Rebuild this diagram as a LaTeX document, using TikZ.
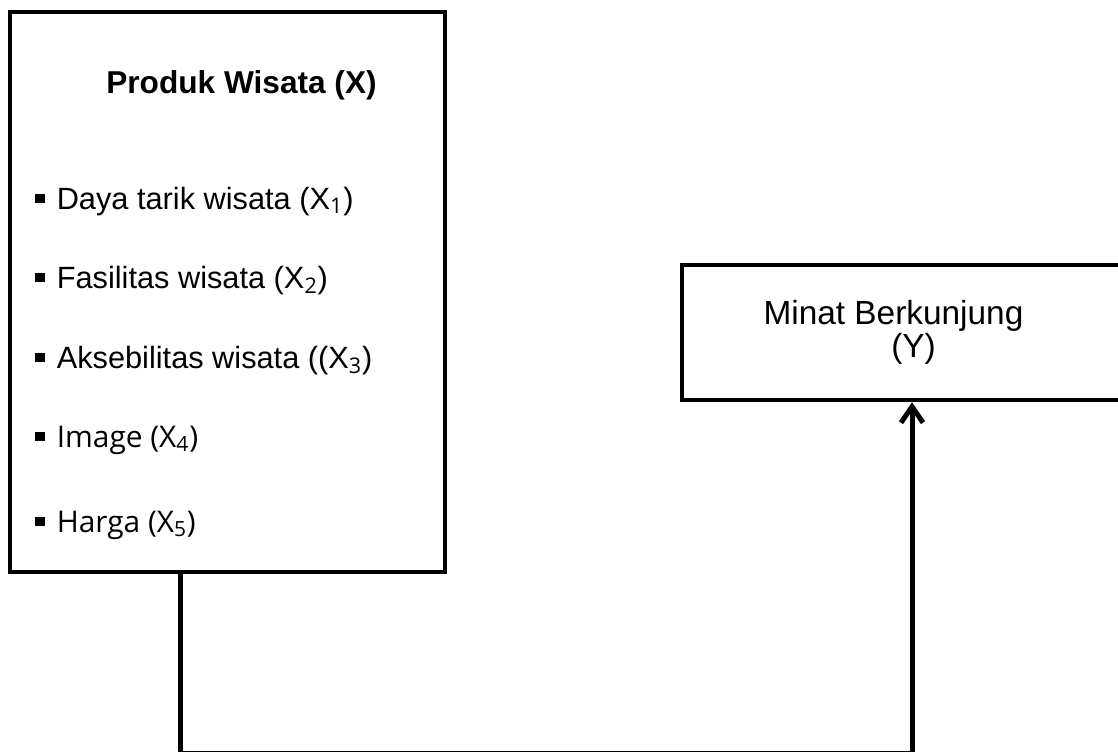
\documentclass[tikz,border=0pt]{standalone}
\usepackage{fontspec}
\setmainfont{Liberation Sans}
\newfontfamily\segoe{Open Sans}
\usetikzlibrary{positioning,arrows.meta}
\tikzset{
  kotak/.style={
      draw,
      line width=0.09cm,
      inner sep=0pt,
  },
  judul/.style={
      font=\fontsize{18}{21}\selectfont\bfseries,
      anchor=base west,
      inner sep=0pt,
  },
  butir/.style={
      font=\fontsize{17.5}{21}\selectfont,
      anchor=base west,
      inner sep=0pt,
  },
  hubung/.style={
      line width=0.1cm,
  },
}
\newcommand{\tanda}{\rule[3.4pt]{5.6pt}{5pt}\hspace{6.6pt}}
\newcommand{\sub}[1]{\textsubscript{\segoe #1}}

\begin{document}
\begin{tikzpicture}[x=0.02cm,y=-0.02cm]
  \useasboundingbox (0,0) rectangle (1118,751);

  % kotak variabel
  \node[kotak, minimum width=8.7cm, minimum height=11.2cm](produk) at (227.5,292) {};
  \node[kotak, minimum width=8.86cm, minimum height=2.7cm, align=center,
        font=\fontsize{19}{16}\selectfont](minat) at (903.5,332.5)
        {Minat Berkunjung\hspace*{0.6em}\\\hspace*{0.6em}(Y)};

  \node[judul](jX) at (106,93) {Produk Wisata (X)};
  \node[butir](b1) at (35,209) {\tanda Daya tarik wisata (X\sub{1})};
  \node[butir](b2) at (35,288) {\tanda Fasilitas wisata (X\sub{2})};
  \node[butir](b3) at (35,368) {\tanda Aksebilitas wisata ((X\sub{3})};
  \node[butir,font=\fontsize{17}{21}\selectfont\segoe](b4) at (35,447) {\tanda Image (X\sub{4})};
  \node[butir,font=\fontsize{17}{21}\selectfont\segoe](b5) at (35,532) {\tanda Harga (X\sub{5})};

  % garis penghubung
  \coordinate (belokKiri) at (180,753.5);
  \coordinate (belokKanan) at (912,753.5);
  \draw[hubung] (produk.south -| belokKiri) -- (belokKiri) -- (belokKanan);
  \draw[hubung,-{Straight Barb[length=0.32cm,width=0.44cm]}] (belokKanan) -- (minat.south -| belokKanan);
\end{tikzpicture}
\end{document}
